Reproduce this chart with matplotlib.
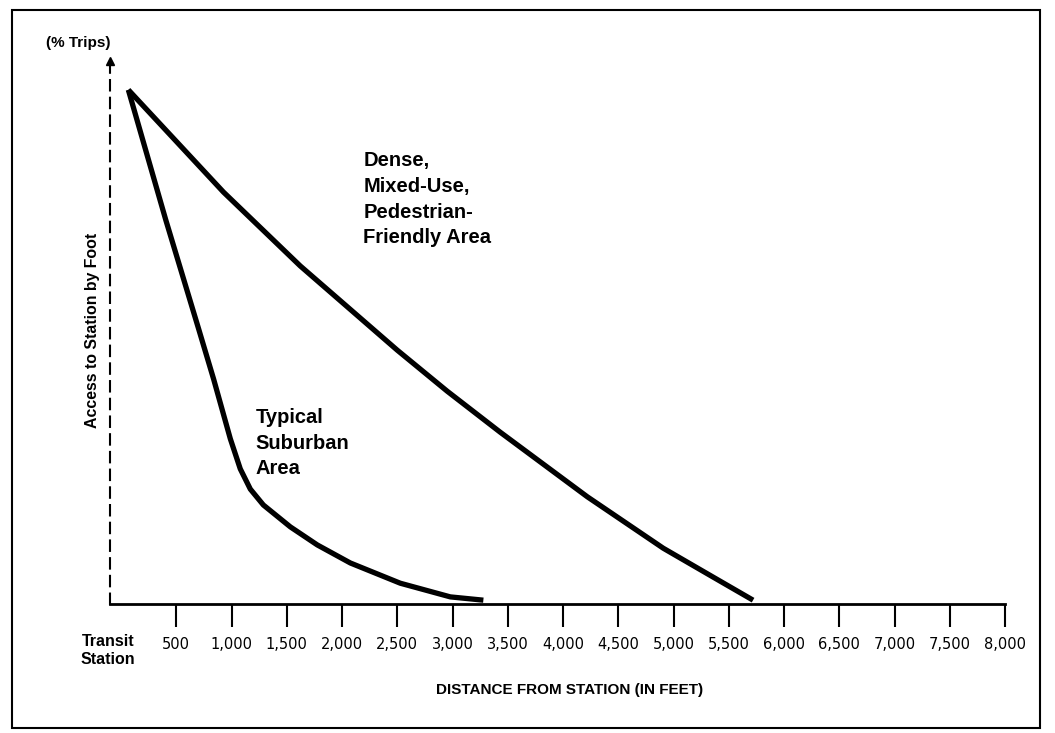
import matplotlib
matplotlib.use("Agg")
import matplotlib.pyplot as plt
from matplotlib.patches import Rectangle

# ---- data ----
dense_x = [66, 927, 1622, 2500, 2952, 3432, 4220, 4907, 5360, 5720]
dense_y = [94.0, 75.3, 61.8, 46.4, 38.9, 31.4, 19.6, 10.2, 4.9, 0.7]

suburban_x = [66, 405, 702, 838, 989, 1079, 1170, 1288, 1532, 1776, 2075, 2527, 2980, 3279]
suburban_y = [94.0, 70.2, 50.3, 41.1, 30.2, 24.7, 21.0, 18.1, 14.1, 10.8, 7.5, 3.8, 1.3, 0.7]

tick_values = [500, 1000, 1500, 2000, 2500, 3000, 3500, 4000,
               4500, 5000, 5500, 6000, 6500, 7000, 7500, 8000]
tick_labels = ["500", "1,000", "1,500", "2,000", "2,500", "3,000", "3,500", "4,000",
               "4,500", "5,000", "5,500", "6,000", "6,500", "7,000", "7,500", "8,000"]

NARROW = ["Liberation Sans Narrow", "Liberation Sans", "DejaVu Sans"]

W, H = 1055, 733
fig = plt.figure(figsize=(W / 100, H / 100), dpi=100)
ax = fig.add_axes([110 / W, 1 - 604 / H, (1005 - 110) / W, (604 - 57) / H])

ax.plot(dense_x, dense_y, color="black", lw=3.8, solid_capstyle="butt", solid_joinstyle="round")
ax.plot(suburban_x, suburban_y, color="black", lw=3.8, solid_capstyle="butt", solid_joinstyle="round")

ax.set_xlim(-100, 8000)
ax.set_ylim(0, 100)

for s in ["top", "right"]:
    ax.spines[s].set_visible(False)
ax.spines["bottom"].set_linewidth(2)
ax.spines["left"].set_linewidth(1.5)
ax.spines["left"].set_linestyle((0, (5, 3.5)))
ax.plot([-100], [99.2], marker="^", ms=6, color="black", clip_on=False)

ax.set_yticks([])
ax.set_xticks(tick_values)
ax.set_xticklabels(tick_labels, fontsize=10.5, family="DejaVu Sans")
ax.tick_params(axis="x", direction="out", length=16.5, width=1.5, pad=7, colors="black")

ax.text(2193, 74.0, "Dense,\nMixed-Use,\nPedestrian-\nFriendly Area",
        ha="left", va="center", fontsize=14.5, fontweight="bold", family=NARROW,
        linespacing=1.45)
ax.text(1215, 29.4, "Typical\nSuburban\nArea",
        ha="left", va="center", fontsize=14.5, fontweight="bold", family=NARROW,
        linespacing=1.45)

fig.text(93 / W, 1 - 330 / H, "Access to Station by Foot", rotation=90,
         ha="center", va="center", fontsize=11.4, fontweight="bold", family=NARROW)
fig.text(78 / W, 1 - 43 / H, "(% Trips)", ha="center", va="center",
         fontsize=11, fontweight="bold", family=NARROW)
fig.text(108 / W, 1 - 651 / H, "Transit\nStation", ha="center", va="center",
         fontsize=11.5, fontweight="bold", family=NARROW, linespacing=1.25)
fig.text(570 / W, 1 - 690 / H, "DISTANCE FROM STATION (IN FEET)", ha="center", va="center",
         fontsize=11, fontweight="bold", family=NARROW)

fig.add_artist(Rectangle((12 / W, 1 - 728 / H), (1040 - 12) / W, (728 - 10) / H,
                         transform=fig.transFigure, fill=False, lw=1.5, color="black"))

fig.savefig("out.png", dpi=100, facecolor="white")
